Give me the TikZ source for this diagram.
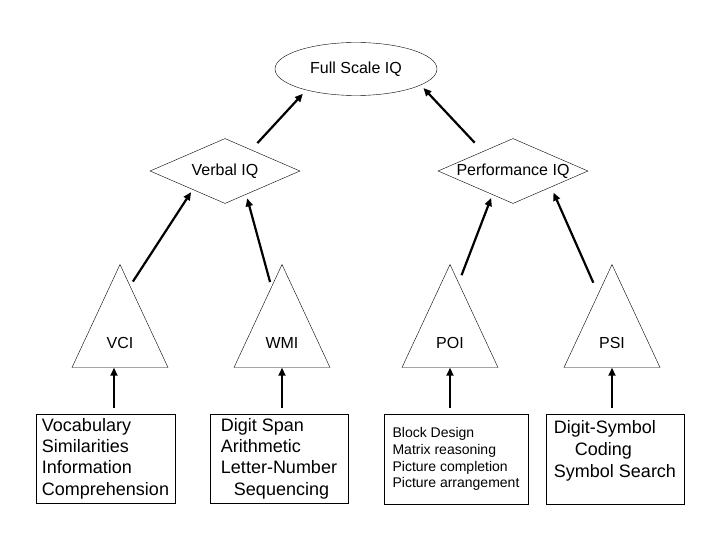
\documentclass[tikz,border=0pt]{standalone}
\usepackage{fontspec}
\setmainfont{Liberation Sans}
\usetikzlibrary{shapes.geometric,arrows.meta,calc}

\tikzset{
  lbl/.style={font=\fontsize{16}{19}\selectfont},
  tri/.style={draw,thin,isosceles triangle,isosceles triangle stretches,shape border rotate=90,minimum width=96pt,minimum height=103pt},
  dia/.style={draw,thin,diamond,minimum width=150pt,minimum height=65pt,lbl},
  box/.style={draw,thin,rectangle,align=left,minimum height=89pt},
  arr/.style={line width=2.2pt,-{Triangle[length=8pt,width=7pt]}}
}

\begin{document}
\begin{tikzpicture}[x=1pt,y=-1pt]
\tikzstyle{every node}+=[inner sep=0pt]
\fill [white] (0,0) rectangle (720,540);
\node [draw,thin,ellipse,minimum width=162pt,minimum height=53pt,lbl] (fsiq) at (356,69) {Full Scale IQ};
\node [dia] (verbal) at (225,171) {\makebox[0pt]{Verbal IQ}};
\node [dia] (perf) at (513,171) {\makebox[0pt]{Performance IQ}};
\node [tri,anchor=apex] (vci) at (120,264) {};
\node [tri,anchor=apex] (wmi) at (282,264) {};
\node [tri,anchor=apex] (poi) at (450,264) {};
\node [tri,anchor=apex] (psi) at (612,264) {};
\node [lbl] (vcil) at ([yshift=25pt]vci.lower side) {VCI};
\node [lbl] (wmil) at ([yshift=25pt]wmi.lower side) {WMI};
\node [lbl] (poil) at ([yshift=25pt]poi.lower side) {POI};
\node [lbl] (psil) at ([yshift=25pt]psi.lower side) {PSI};
\node [box,minimum width=139pt,font=\fontsize{18}{21.3}\selectfont] (vcib) at (105.5,458.5)
  {Vocabulary\\Similarities\\Information\\Comprehension};
\node [box,minimum width=138pt,font=\fontsize{18}{21.3}\selectfont] (wmib) at (279,458.5)
  {Digit Span\\Arithmetic\\Letter-Number\\\hspace*{13pt}Sequencing};
\node [box,minimum width=144pt,minimum height=90pt,font=\fontsize{14}{16.8}\selectfont] (poib) at (456,459)
  {Block Design\\Matrix reasoning\\Picture completion\\Picture arrangement};
\node [box,minimum width=138pt,minimum height=90pt,text depth=21pt,font=\fontsize{18}{22}\selectfont] (psib) at (615,459)
  {Digit-Symbol\\\hspace*{21pt}Coding\\Symbol Search};
\draw [arr,shorten <=9pt,shorten >=5pt] (verbal.39) -- (fsiq.203);
\draw [arr,shorten <=12pt,shorten >=4pt] (perf.147) -- (fsiq.346);
\draw [arr,shorten <=5pt,shorten >=3pt] ($(vci.apex)!0.21!(vci.right corner)$) -- (verbal.210);
\draw [arr,shorten <=5pt,shorten >=4pt] ($(wmi.apex)!0.22!(wmi.left corner)$) -- (verbal.312);
\draw [arr,shorten <=8pt,shorten >=3.5pt] ($(poi.apex)!0.18!(poi.right corner)$) -- (perf.229);
\draw [arr,shorten <=12pt,shorten >=6pt] ($(psi.apex)!0.286!(psi.left corner)$) -- (perf.337);
\draw [arr,shorten <=6pt] ([xshift=-6pt]vci.lower side |- vcib.north) -- ([xshift=-6pt]vci.lower side);
\draw [arr,shorten <=6pt] (wmi.lower side |- wmib.north) -- (wmi.lower side);
\draw [arr,shorten <=6pt] (poi.lower side |- poib.north) -- (poi.lower side);
\draw [arr,shorten <=6pt] (psi.lower side |- psib.north) -- (psi.lower side);
\end{tikzpicture}
\end{document}
